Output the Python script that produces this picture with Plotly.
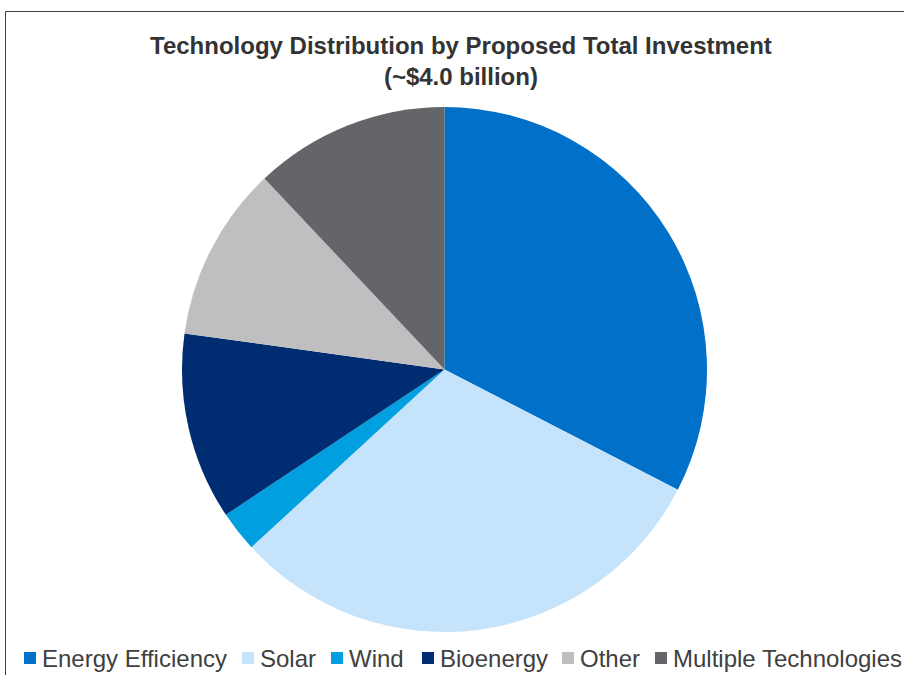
import plotly.graph_objects as go

# ---- data ----
categories = ["Energy Efficiency", "Solar", "Wind", "Bioenergy", "Other", "Multiple Technologies"]
investment_billion = [1.30, 1.22, 0.10, 0.46, 0.43, 0.48]
colors = ["#0070C8", "#C5E4FB", "#009FDF", "#002D72", "#BFBFC1", "#636569"]
title_lines = ["Technology Distribution by Proposed Total Investment", "(~$4.0 billion)"]

# ---- layout constants (pixels) ----
W, H = 904, 675
legend_square_x = [24, 242, 331, 422, 562, 655]
legend_y = 658
font_family = "Liberation Sans, Arial, sans-serif"


def px(x):
    return x / W


def py(y):
    return 1 - y / H


fig = go.Figure()
fig.add_trace(go.Pie(
    labels=categories,
    values=investment_billion,
    marker=dict(colors=colors, line=dict(width=0)),
    sort=False,
    direction="clockwise",
    rotation=0,
    textinfo="none",
    hoverinfo="label+value+percent",
    domain=dict(x=[px(182), px(707)], y=[py(632), py(107)]),
    showlegend=False,
))

shapes = [
    dict(type="rect", xref="paper", yref="paper",
         x0=px(5.5), y0=py(11.5), x1=1.05, y1=-0.05,
         line=dict(color="#404040", width=1), fillcolor="rgba(0,0,0,0)", layer="below"),
]
annotations = [
    dict(text="<b>" + title_lines[0] + "</b><br><b>" + title_lines[1] + "</b>",
         xref="paper", yref="paper", x=px(461), y=py(61),
         xanchor="center", yanchor="middle", showarrow=False,
         font=dict(family=font_family, size=24, color="#333333")),
]
for cat, col, sx in zip(categories, colors, legend_square_x):
    shapes.append(dict(type="rect", xref="paper", yref="paper",
                       x0=px(sx), x1=px(sx + 12), y0=py(legend_y + 6), y1=py(legend_y - 6),
                       fillcolor=col, line=dict(width=0)))
    annotations.append(dict(text=cat, xref="paper", yref="paper",
                            x=px(sx + 18), y=py(legend_y), xanchor="left", yanchor="middle",
                            showarrow=False, xshift=-2,
                            font=dict(family=font_family, size=24, color="#404040")))

fig.update_layout(
    width=W, height=H,
    margin=dict(l=0, r=0, t=0, b=0),
    paper_bgcolor="white",
    plot_bgcolor="white",
    shapes=shapes,
    annotations=annotations,
)

fig.write_html("out.html", config={"displayModeBar": False},
               post_script="document.body.style.margin='0';")
